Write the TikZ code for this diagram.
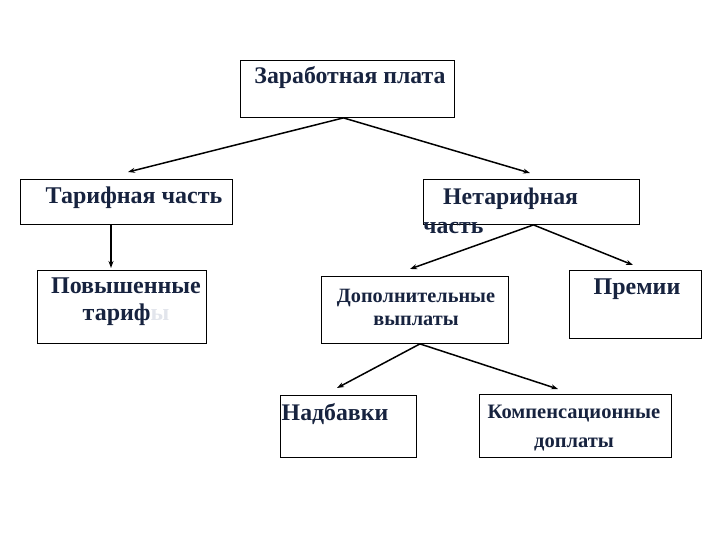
\documentclass[tikz,border=0pt]{standalone}
\usepackage{fontspec}
\setmainfont{Liberation Serif}
\usetikzlibrary{arrows.meta}
\definecolor{inkColor}{HTML}{17233F}
\definecolor{fadeColor}{HTML}{E2E5EC}

\begin{document}
\begin{tikzpicture}[x=1pt, y=-1pt,
    box/.style={draw, line width=0.9pt, anchor=north west, inner sep=0pt},
    txt/.style={text=inkColor, inner sep=0pt, align=center,
        font=\bfseries\fontsize{24}{27}\selectfont},
    big txt/.style={txt, font=\bfseries\fontsize{23.8}{29}\selectfont},
    small txt/.style={txt, font=\bfseries\fontsize{20.3}{23}\selectfont},
    wide txt/.style={txt, font=\bfseries\fontsize{20.5}{29}\selectfont},
    link/.style={line width=1.5pt, -{Stealth[length=7pt, width=5pt]}}]
    \useasboundingbox (0,0) rectangle (720,540);
    % boxes
    \node[box, minimum width=214pt, minimum height=57pt] (wage) at (240,60) {};
    \node[box, minimum width=212pt, minimum height=45pt] (tariff) at (20,179) {};
    \node[box, minimum width=216pt, minimum height=45pt] (nontariff) at (423,179) {};
    \node[box, minimum width=169pt, minimum height=73pt] (raised) at (37,270) {};
    \node[box, minimum width=187pt, minimum height=67pt] (extra) at (321,276) {};
    \node[box, minimum width=132pt, minimum height=68pt] (bonus) at (569,270) {};
    \node[box, minimum width=136pt, minimum height=62pt] (allow) at (280,395) {};
    \node[box, minimum width=192pt, minimum height=63pt] (comp) at (479,394) {};
    % texts
    \node[big txt] (wageText) at (350,78) {Заработная плата};
    \node[txt] (tariffText) at (134,198) {Тарифная часть};
    \node[txt] (raisedText) at (126,302) {Повышенные\\тариф\textcolor{fadeColor}{ы}};
    \node[big txt, align=left, anchor=west] (nontariffText) at (423,211)
        {\hspace*{20pt}Нетарифная\\часть};
    \node[small txt] (extraText) at (416,307) {Дополнительные\\выплаты};
    \node[txt] (bonusText) at (637,289) {Премии};
    \node[big txt] (allowText) at (335,414) {Надбавки};
    \node[wide txt] (compText) at (574,428) {Компенсационные\\доплаты};
    % arrow ends
    \coordinate (tariffIn) at (128,172);
    \coordinate (nontariffIn) at (530,173);
    \coordinate (raisedIn) at (111,268);
    \coordinate (extraIn) at (410,269);
    \coordinate (bonusIn) at (633,265);
    \coordinate (allowIn) at (337,388);
    \coordinate (compIn) at (558,389);
    % connectors
    \draw[link] ([xshift=-4pt]wage.south) -- (tariffIn);
    \draw[link] ([xshift=-4pt]wage.south) -- (nontariffIn);
    \draw[link] (tariff.south -| raisedIn) -- (raisedIn);
    \draw[link] ([xshift=2pt]nontariff.south) -- (extraIn);
    \draw[link] ([xshift=2pt]nontariff.south) -- (bonusIn);
    \draw[link] ([xshift=5pt]extra.south) -- (allowIn);
    \draw[link] ([xshift=5pt]extra.south) -- (compIn);
\end{tikzpicture}
\end{document}
